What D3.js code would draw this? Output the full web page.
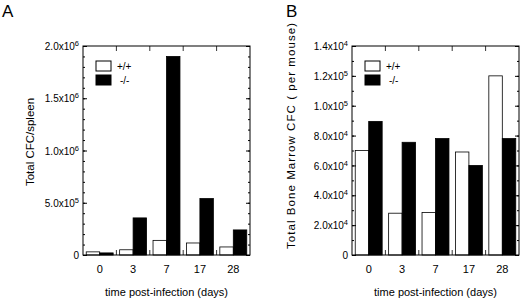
<!DOCTYPE html>
<html>
<head>
<meta charset="utf-8">
<script src="https://cdn.jsdelivr.net/npm/d3@7"></script>
<style>
  html, body { margin: 0; padding: 0; background: #fff; }
  svg { display: block; font-family: "Liberation Sans", Arial, sans-serif; }
</style>
</head>
<body>
<svg id="chart" width="520" height="300"></svg>
<script>
// ── Data ────────────────────────────────────────────────────────────────────
const DAYS   = ["0", "3", "7", "17", "28"];
const GROUPS = ["+/+", "-/-"];

// Panel A: total CFC per spleen
const spleenWT = [3.0e4, 5.0e4, 1.4e5, 1.15e5, 7.7e4];
const spleenKO = [2.0e4, 3.55e5, 1.9e6, 5.4e5, 2.4e5];

// Panel B: total bone marrow CFC per mouse
const marrowWT = [7.0e4, 2.8e4, 2.85e4, 6.9e4, 1.2e5];
const marrowKO = [8.95e4, 7.55e4, 7.8e4, 6.0e4, 7.8e4];

// tick values and labels (mantissa, exponent) — top label of B reads 10^4 in the source
const ticksA  = [0, 5e5, 1e6, 1.5e6, 2e6];
const labelsA = [["0", ""], ["5.0x10", "5"], ["1.0x10", "6"], ["1.5x10", "6"], ["2.0x10", "6"]];
const ticksB  = [0, 2e4, 4e4, 6e4, 8e4, 1e5, 1.2e5, 1.4e5];
const labelsB = [["0", ""], ["2.0x10", "4"], ["4.0x10", "4"], ["6.0x10", "4"], ["8.0x10", "4"],
                 ["1.0x10", "5"], ["1.2x10", "5"], ["1.4x10", "4"]];

// ── Panel builder ───────────────────────────────────────────────────────────
const svg = d3.select("#chart");

function panel(opt) {
  const W = 167, H = 209;
  const g = svg.append("g").attr("transform", `translate(${opt.left},46)`);

  const x0 = d3.scaleBand().domain(DAYS).range([0, W]);
  const x1 = d3.scaleBand().domain(GROUPS).range([0, x0.bandwidth()])
    .paddingInner(0).paddingOuter(0.24);
  const y  = d3.scaleLinear().domain([0, opt.max]).range([H, 0]);

  const rows = DAYS.map((d, i) => ({ day: d, vals: [opt.wt[i], opt.ko[i]] }));

  // bars
  g.selectAll("g.grp").data(rows).join("g")
    .attr("class", "grp")
    .attr("transform", d => `translate(${x0(d.day)},0)`)
    .selectAll("rect")
    .data(d => d.vals.map((v, j) => ({ key: GROUPS[j], v })))
    .join("rect")
    .attr("x", d => x1(d.key))
    .attr("y", d => y(d.v))
    .attr("width", x1.bandwidth())
    .attr("height", d => H - y(d.v))
    .attr("fill", d => d.key === "+/+" ? "#fff" : "#000")
    .attr("stroke", "#000")
    .attr("stroke-width", 0.8);

  // minor + major ticks, left and right, pointing inward
  const minor = d3.range(0, opt.max + opt.minorStep / 2, opt.minorStep);
  g.append("g").call(d3.axisLeft(y).tickValues(minor).tickSize(-2).tickFormat(""))
    .call(a => a.select(".domain").remove());
  g.append("g").attr("transform", `translate(${W},0)`)
    .call(d3.axisRight(y).tickValues(minor).tickSize(-2).tickFormat(""))
    .call(a => a.select(".domain").remove());
  g.append("g").attr("transform", `translate(${W},0)`)
    .call(d3.axisRight(y).tickValues(opt.ticks).tickSize(-4).tickFormat(""))
    .call(a => a.select(".domain").remove());

  const yAx = g.append("g")
    .call(d3.axisLeft(y).tickValues(opt.ticks).tickSize(-4).tickPadding(4).tickFormat(""))
    .call(a => a.select(".domain").remove());
  yAx.selectAll(".tick text").each(function (d, i) {
    const t = d3.select(this).attr("font-size", 10).attr("fill", "#000")
      .attr("font-family", "Liberation Sans, Arial, sans-serif");
    const lab = opt.labels[i];
    if (lab[1]) {
      t.append("tspan").text(lab[0]);
      t.append("tspan").attr("font-size", 7.5).attr("dy", -4).text(lab[1]);
    } else {
      t.text(lab[0]);
    }
    t.attr("dy", "0.36em");
  });
  // shift superscripted labels so the mantissa ends near the axis
  yAx.selectAll(".tick text").attr("x", -4);

  // category boundary ticks (top and bottom)
  const bounds = DAYS.slice(1);
  g.selectAll("line.bt").data(bounds).join("line").attr("class", "bt")
    .attr("x1", d => x0(d)).attr("x2", d => x0(d))
    .attr("y1", H).attr("y2", H - 5)
    .attr("stroke", "#000").attr("stroke-width", 0.8);
  g.selectAll("line.tt").data(bounds).join("line").attr("class", "tt")
    .attr("x1", d => x0(d)).attr("x2", d => x0(d))
    .attr("y1", 0).attr("y2", 5)
    .attr("stroke", "#000").attr("stroke-width", 0.8);

  // x labels
  g.append("g").attr("transform", `translate(0,${H})`)
    .call(d3.axisBottom(x0).tickSize(0).tickPadding(10))
    .call(a => a.select(".domain").remove())
    .selectAll("text").attr("font-size", 11).attr("fill", "#000")
    .attr("font-family", "Liberation Sans, Arial, sans-serif");

  // frame
  g.append("rect").attr("width", W).attr("height", H)
    .attr("fill", "none").attr("stroke", "#000").attr("stroke-width", 1);

  // legend
  const lg = g.append("g").attr("transform", "translate(13,15)");
  GROUPS.forEach((k, i) => {
    lg.append("rect").attr("x", 0).attr("y", i * 14).attr("width", 15).attr("height", 10)
      .attr("fill", k === "+/+" ? "#fff" : "#000").attr("stroke", "#000").attr("stroke-width", 1);
    lg.append("text").attr("x", k === "+/+" ? 21 : 24).attr("y", i * 14 + 8.5)
      .attr("font-size", 10).text(k);
  });

  // axis titles
  svg.append("text").attr("x", opt.left + W / 2).attr("y", 296)
    .attr("text-anchor", "middle").attr("font-size", 11)
    .text("time post-infection (days)");
  const yt = svg.append("text")
    .attr("transform", `translate(${opt.ytX},${opt.ytY}) rotate(-90)`)
    .attr("text-anchor", "middle").attr("font-size", opt.ytSize)
    .text(opt.ytitle);
  if (opt.ytLen) yt.attr("textLength", opt.ytLen).attr("lengthAdjust", "spacing");

  // panel letter
  svg.append("text").attr("x", opt.letterX).attr("y", 17)
    .attr("font-size", 17).text(opt.letter);
}

panel({
  left: 83, max: 2e6, minorStep: 1e5, ticks: ticksA, labels: labelsA,
  wt: spleenWT, ko: spleenKO,
  ytitle: "Total CFC/spleen", ytX: 34, ytY: 142, ytSize: 11.5,
  letter: "A", letterX: 2
});
panel({
  left: 352, max: 1.4e5, minorStep: 1e4, ticks: ticksB, labels: labelsB,
  wt: marrowWT, ko: marrowKO,
  ytitle: "Total Bone Marrow CFC ( per mouse)", ytX: 295, ytY: 136, ytSize: 11.5, ytLen: 226,
  letter: "B", letterX: 286
});
</script>
</body>
</html>
